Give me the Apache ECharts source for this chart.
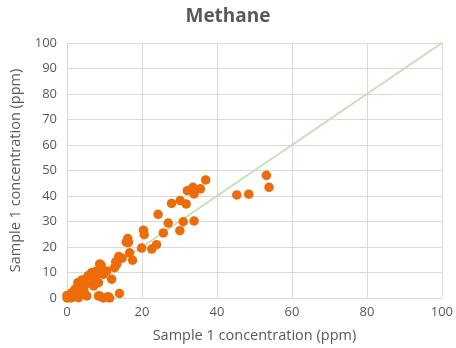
<!DOCTYPE html>
<html><head><meta charset="utf-8">
<script src="https://cdn.jsdelivr.net/npm/echarts@6/dist/echarts.min.js"></script>
<style>html,body{margin:0;padding:0;background:#fff}#c{width:456px;height:348px}</style>
</head><body><div id="c"></div>
<script>
const titleText = "Methane";
const xName = "Sample 1 concentration (ppm)";
const yName = "Sample 1 concentration (ppm)";
const sampleX = [53.2,53.9,45.3,48.5,37.0,35.6,33.6,32.1,33.9,31.8,30.2,27.9,24.3,27.0,31.0,33.9,30.1,25.7,20.4,20.6,23.9,22.6,19.9,16.2,16.4,15.8,16.7,13.8,14.7,17.5,14.0,
  13.0,9.1,7.9,6.6,5.6,4.0,2.9,9.7,10.6,11.9,8.4,7.1,2.2,1.3,0,5.3,8.4,9.7,3.1,4.0,12.7,13.3,10.0,8.7,6.5,7.4,5.2,4.3,11.4,1.7,2.1,3.0,0.5,1.0,0,2.0,6.0,5.0,3.5,11.0,8.7,
  1.0,2.5,0.3,4.5,6.0,7.5,3.8,0.8];
const sampleY = [48.1,43.4,40.4,40.7,46.3,42.8,43.4,42.1,40.8,36.9,38.2,37.1,32.8,29.4,29.9,30.2,26.4,25.5,26.6,24.8,20.9,19.2,19.6,23.3,21.8,21.9,17.7,16.3,15.6,14.8,1.8,
  14.2,12.9,10.6,10.0,8.7,7.1,6.0,9.3,10.6,7.4,6.0,4.7,2.8,2.1,0,0.8,0.8,0,0.1,4.0,11.9,13.3,10.0,13.3,8.0,9.3,6.7,5.4,0,0.8,3.4,2.1,0.5,0,1.0,0.5,7.0,5.5,4.0,0.5,0.8,
  1.5,1.0,0.3,3.0,6.0,8.0,5.0,0.2];
const lineX = [0, 100];
const lineY = [0, 100];

const pts = sampleX.map((x, i) => [x, sampleY[i]]);
const linePts = lineX.map((x, i) => [x, lineY[i]]);
const font = "'Open Sans', sans-serif";
const chart = echarts.init(document.getElementById('c'), null, {renderer: 'canvas'});
chart.setOption({
  animation: false,
  title: {text: titleText, left: 'center', top: 2,
    textStyle: {color: '#595959', fontSize: 19, fontWeight: 'bold', fontFamily: font}},
  grid: {left: 67, right: 9, top: 43, bottom: 49, containLabel: false},
  xAxis: {type: 'value', min: 0, max: 100, interval: 20,
    name: xName, nameLocation: 'middle', nameGap: 30,
    nameTextStyle: {color: '#595959', fontSize: 14.5, fontFamily: font},
    axisLine: {show: true, lineStyle: {color: '#d9d9d9'}},
    axisTick: {show: false},
    axisLabel: {color: '#595959', fontSize: 13, fontFamily: font, margin: 8},
    splitLine: {show: true, lineStyle: {color: '#d9d9d9'}}},
  yAxis: {type: 'value', min: 0, max: 100, interval: 10,
    name: yName, nameLocation: 'middle', nameGap: 35,
    nameTextStyle: {color: '#595959', fontSize: 14.5, fontFamily: font},
    axisLine: {show: true, lineStyle: {color: '#d9d9d9'}},
    axisTick: {show: false},
    axisLabel: {color: '#595959', fontSize: 13, fontFamily: font, margin: 10},
    splitLine: {show: true, lineStyle: {color: '#d9d9d9'}}},
  series: [
    {type: 'line', data: linePts, symbol: 'none', lineStyle: {color: '#c5e0b4', width: 2}, z: 1},
    {type: 'scatter', data: pts, symbolSize: 9.5, itemStyle: {color: '#ED6C0A', opacity: 1}, z: 3}
  ]
});
</script>
</body></html>
